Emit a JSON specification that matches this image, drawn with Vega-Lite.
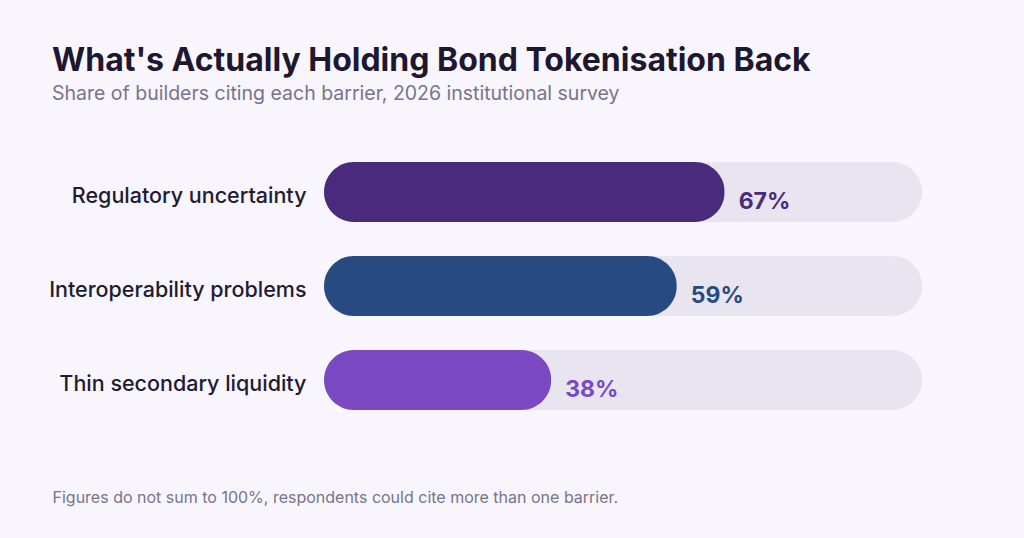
{
  "$schema": "https://vega.github.io/schema/vega-lite/v6.json",
  "autosize": "none",
  "width": 598,
  "height": 282,
  "padding": {"left": 324, "top": 145, "right": 102, "bottom": 111},
  "background": "#f8f6fc",
  "title": {
    "text": "What's Actually Holding Bond Tokenisation Back",
    "subtitle": "Share of builders citing each barrier, 2026 institutional survey",
    "anchor": "start",
    "frame": "group",
    "dx": -272,
    "offset": 41,
    "font": "Inter",
    "fontSize": 32,
    "fontWeight": 700,
    "color": "#1d1830",
    "subtitleFont": "Inter",
    "subtitleFontSize": 19.5,
    "subtitleColor": "#77748a",
    "subtitlePadding": 7
  },
  "data": {
    "values": [
      {"barrier": "Regulatory uncertainty", "share": 0.67},
      {"barrier": "Interoperability problems", "share": 0.59},
      {"barrier": "Thin secondary liquidity", "share": 0.38}
    ]
  },
  "encoding": {
    "y": {
      "field": "barrier",
      "type": "nominal",
      "sort": null,
      "scale": {"paddingInner": 0.3617, "paddingOuter": 0.1809},
      "axis": {
        "title": null,
        "domain": false,
        "ticks": false,
        "labelPadding": 18,
        "labelOffset": 5,
        "labelLimit": 320,
        "labelFont": "Inter",
        "labelFontSize": 21.5,
        "labelColor": "#1e1b33",
        "labelFontWeight": 500
      }
    }
  },
  "layer": [
    {
      "mark": {"type": "bar", "cornerRadius": 30, "color": "#e8e4f0"},
      "encoding": {
        "x": {
          "datum": 1,
          "type": "quantitative",
          "scale": {"domain": [0, 1], "nice": false},
          "axis": {
            "domain": false,
            "ticks": false,
            "labels": false,
            "grid": false,
            "title": "Figures do not sum to 100%, respondents could cite more than one barrier.",
            "titleAnchor": "start",
            "titleAlign": "left",
            "titleX": -272,
            "titleY": 75,
            "titleBaseline": "alphabetic",
            "titleFont": "Inter",
            "titleFontSize": 16,
            "titleFontWeight": 400,
            "titleColor": "#77748a"
          }
        }
      }
    },
    {
      "mark": {"type": "bar", "cornerRadius": 30},
      "encoding": {
        "x": {"field": "share", "type": "quantitative"},
        "color": {
          "field": "barrier",
          "type": "nominal",
          "scale": {
            "domain": ["Regulatory uncertainty", "Interoperability problems", "Thin secondary liquidity"],
            "range": ["#4a2a7d", "#274a80", "#7a48c1"]
          },
          "legend": null
        }
      }
    },
    {
      "mark": {
        "type": "text",
        "align": "left",
        "baseline": "middle",
        "dx": 14,
        "dy": 10,
        "font": "Inter",
        "fontSize": 23,
        "fontWeight": 700
      },
      "encoding": {
        "x": {"field": "share", "type": "quantitative"},
        "text": {"field": "share", "type": "quantitative", "format": ".0%"},
        "color": {"field": "barrier", "type": "nominal", "legend": null}
      }
    }
  ],
  "config": {"view": {"stroke": null}}
}
